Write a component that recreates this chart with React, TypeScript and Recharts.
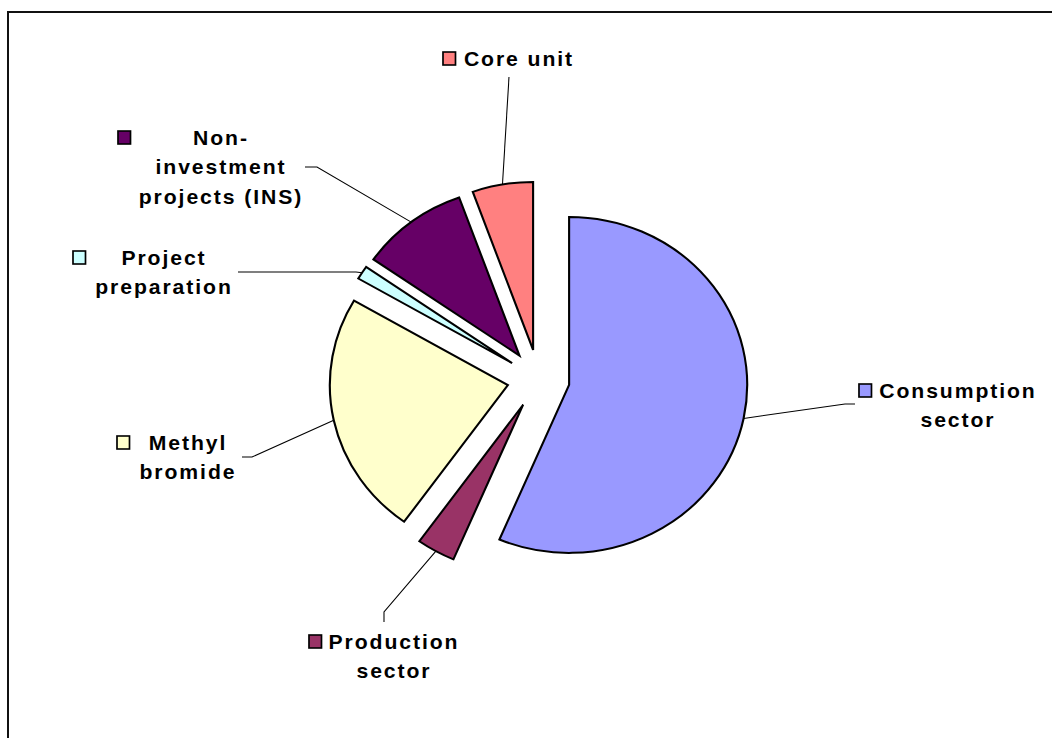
import React from 'react';
import { PieChart, Pie, Cell, Sector } from 'recharts';

// shares in %, clockwise from 12 o'clock
const sectors = [
  'Consumption sector',
  'Production sector',
  'Methyl bromide',
  'Project preparation',
  'Non-investment projects (INS)',
  'Core unit',
];
const shares = [56.4, 3.5, 23.5, 1.3, 9.8, 5.5];
const colors = ['#9999FF', '#993366', '#FFFFCC', '#CCFFFF', '#660066', '#FF8080'];
const labelLines = [
  ['Consumption', 'sector'],
  ['Production', 'sector'],
  ['Methyl', 'bromide'],
  ['Project', 'preparation'],
  ['Non-', 'investment', 'projects (INS)'],
  ['Core unit'],
];

const W = 1052;
const H = 738;
const SX = 1.06; // the original is stretched a bit horizontally
const EXPLODE = 29.5;
const RADIAN = Math.PI / 180;
const LINE_H = 29.5;

// label placement in page pixels (key square top-left, text centre, leader bends)
const labelBoxes: { key: [number, number]; textX: number; textY: number; path: [number, number][] }[] = [
  { key: [859, 384], textX: 958, textY: 391, path: [[845, 404], [855, 404]] },
  { key: [309, 635], textX: 394, textY: 642, path: [[384, 612], [384, 622]] },
  { key: [117, 436], textX: 188, textY: 443, path: [[252, 457], [242, 457]] },
  { key: [73, 251], textX: 164, textY: 258, path: [[356, 272], [238, 272]] },
  { key: [118, 131], textX: 221, textY: 138, path: [[317, 167], [305, 167]] },
  { key: [443, 52], textX: 519, textY: 59, path: [[509, 77]] },
];

const data = sectors.map((name, i) => ({ name, value: shares[i] }));

const renderSlice = (props: any) => {
  const { cx, cy, midAngle } = props;
  const dx = EXPLODE * Math.cos(-midAngle * RADIAN);
  const dy = EXPLODE * Math.sin(-midAngle * RADIAN);
  return <Sector {...props} cx={cx + dx} cy={cy + dy} />;
};

const renderLabel = (props: any) => {
  const { cx, cy, midAngle, outerRadius } = props;
  const index = typeof props.index === 'number' ? props.index : sectors.indexOf(props.name);
  const box = labelBoxes[index];
  if (!box) return null;
  const r = outerRadius + EXPLODE;
  const sx = cx + r * Math.cos(-midAngle * RADIAN);
  const sy = cy + r * Math.sin(-midAngle * RADIAN);
  const pts = [[sx, sy], ...box.path.map(([x, y]) => [x / SX, y])];
  return (
    <g>
      <polyline
        points={pts.map((p) => p.join(',')).join(' ')}
        fill="none"
        stroke="#000"
        strokeWidth={1}
      />
      <rect
        x={box.key[0] / SX}
        y={box.key[1]}
        width={12.5 / SX}
        height={13}
        fill={colors[index]}
        stroke="#000"
        strokeWidth={1.6}
      />
      <text
        textAnchor="middle"
        fontFamily='"Liberation Sans", Arial, sans-serif'
        fontWeight="bold"
        fontSize={20}
        letterSpacing={1.8}
        fill="#000"
      >
        {labelLines[index].map((line, i) => (
          <tspan key={i} x={box.textX / SX} y={box.textY + 7 + i * LINE_H}>
            {line}
          </tspan>
        ))}
      </text>
    </g>
  );
};

export default function App() {
  return (
    <div style={{ position: 'absolute', left: 0, top: 0, width: W, height: H, overflow: 'hidden', background: '#fff' }}>
      <div
        style={{
          position: 'absolute',
          left: 7,
          top: 11,
          width: W + 40,
          height: H + 40,
          borderTop: '2px solid #111',
          borderLeft: '2px solid #111',
        }}
      />
      <div
        style={{
          position: 'absolute',
          left: 0,
          top: 0,
          width: W / SX,
          height: H,
          transform: `scaleX(${SX})`,
          transformOrigin: '0 0',
        }}
      >
        <PieChart width={W / SX} height={H}>
          <Pie
            data={data}
            dataKey="value"
            nameKey="name"
            cx={503}
            cy={374}
            outerRadius={168}
            startAngle={90}
            endAngle={-270}
            stroke="#000"
            strokeWidth={2}
            shape={renderSlice}
            label={renderLabel}
            labelLine={false}
            isAnimationActive={false}
          >
            {data.map((d, i) => (
              <Cell key={d.name} fill={colors[i]} />
            ))}
          </Pie>
        </PieChart>
      </div>
    </div>
  );
}
